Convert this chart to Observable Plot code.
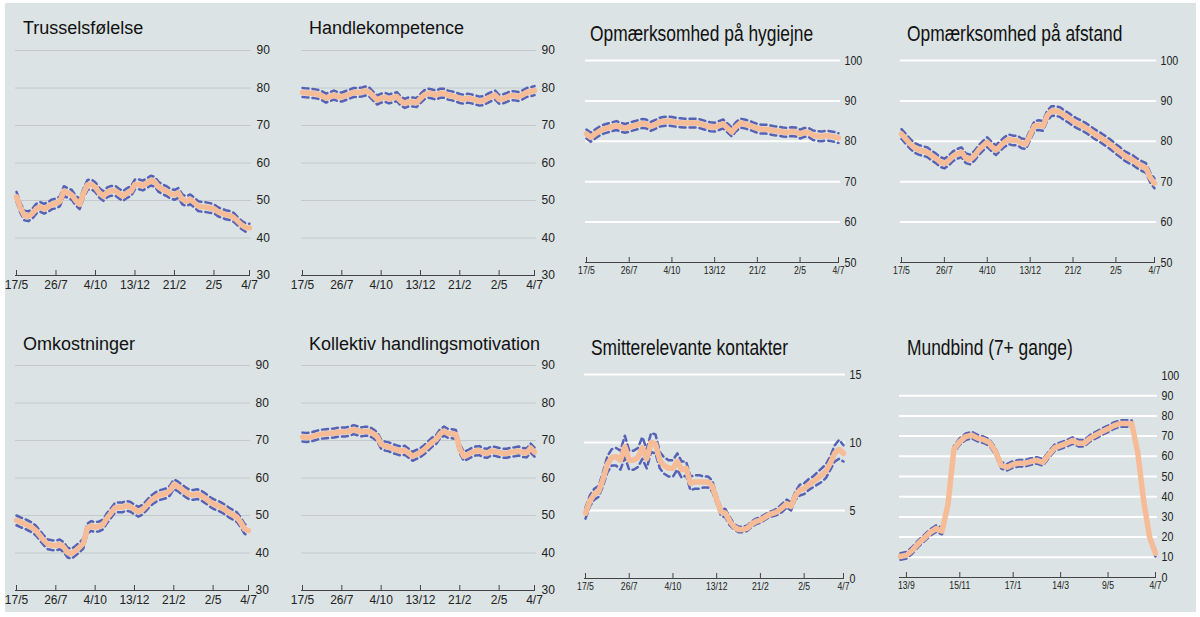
<!DOCTYPE html>
<html><head><meta charset="utf-8">
<script src="https://cdn.jsdelivr.net/npm/d3@7"></script>
<script src="https://cdn.jsdelivr.net/npm/@observablehq/plot@0.6"></script>
<style>
body{margin:0;background:#fff;width:1200px;height:617px;overflow:hidden;position:relative}
#bg{position:absolute;left:5px;top:3px;width:1191px;height:609px;background:#dbe3e4}
.title{position:absolute;white-space:nowrap;color:#111;line-height:1;font-family:"Liberation Sans",Arial,sans-serif}
.title.r{transform:scaleX(0.79);transform-origin:0 0}
.chart{position:absolute}
</style></head><body><div id="bg"></div>
<script>
// ---------- DATA ----------
const weeks = ["2020-05-17","2020-05-24","2020-05-31","2020-06-07","2020-06-14","2020-06-21","2020-06-28","2020-07-05","2020-07-12","2020-07-19",
"2020-07-26","2020-08-02","2020-08-09","2020-08-16","2020-08-23","2020-08-30","2020-09-06","2020-09-13","2020-09-20","2020-09-27",
"2020-10-04","2020-10-11","2020-10-18","2020-10-25","2020-11-01","2020-11-08","2020-11-15","2020-11-22","2020-11-29","2020-12-06",
"2020-12-13","2020-12-20","2020-12-27","2021-01-03","2021-01-10","2021-01-17","2021-01-24","2021-01-31","2021-02-07","2021-02-14",
"2021-02-21","2021-02-28","2021-03-07","2021-03-14","2021-03-21","2021-03-28","2021-04-04","2021-04-11","2021-04-18","2021-04-25",
"2021-05-02","2021-05-09","2021-05-16","2021-05-23","2021-05-30","2021-06-06","2021-06-13","2021-06-20","2021-06-27","2021-07-04"];
const maskWeeks = ["2020-09-06","2020-09-13","2020-09-20","2020-09-27","2020-10-04","2020-10-11","2020-10-18","2020-10-25","2020-11-01","2020-11-08",
"2020-11-15","2020-11-22","2020-11-29","2020-12-06","2020-12-13","2020-12-20","2020-12-27","2021-01-03","2021-01-10","2021-01-17",
"2021-01-24","2021-01-31","2021-02-07","2021-02-14","2021-02-21","2021-02-28","2021-03-07","2021-03-14","2021-03-21","2021-03-28",
"2021-04-04","2021-04-11","2021-04-18","2021-04-25","2021-05-02","2021-05-09","2021-05-16","2021-05-23","2021-05-30","2021-06-06",
"2021-06-13","2021-06-20","2021-06-27","2021-07-04"];

const mainTickDates = ["2020-05-17","2020-07-26","2020-10-04","2020-12-13","2021-02-21","2021-05-02","2021-07-04"];
const maskTickDates = ["2020-09-13","2020-11-15","2021-01-17","2021-03-14","2021-05-09","2021-07-04"];

const titles = ["Trusselsfølelse","Handlekompetence","Opmærksomhed på hygiejne","Opmærksomhed på afstand",
"Omkostninger","Kollektiv handlingsmotivation","Smitterelevante kontakter","Mundbind (7+ gange)"];

const yTicksLeft = [30,40,50,60,70,80,90];
const yTicksHyg = [50,60,70,80,90,100];
const yTicksContacts = [0,5,10,15];
const yTicksMask = [0,10,20,30,40,50,60,70,80,90,100];

const trusselMean = [51.0,48.0,46.0,45.8,46.5,47.8,48.3,47.8,48.3,49.0,49.2,49.8,52.5,52.0,51.5,50.0,49.0,52.0,54.2,54.3,53.5,52.0,51.2,52.2,52.6,52.6,51.8,51.2,52.0,52.5,54.3,54.3,54.0,54.6,55.3,55.0,53.6,53.0,52.5,51.8,51.5,52.0,50.3,49.8,50.3,49.5,48.5,48.3,48.2,48.0,47.8,47.0,46.6,46.2,46.0,45.5,44.5,43.5,42.8,42.7];
const trusselHi = [52.3,49.3,47.3,47.1,47.8,49.1,49.6,49.1,49.6,50.3,50.5,51.1,53.8,53.3,52.8,51.3,50.3,53.3,55.5,55.6,54.8,53.3,52.5,53.5,53.9,53.9,53.1,52.5,53.3,53.8,55.6,55.6,55.3,55.9,56.6,56.3,54.9,54.3,53.8,53.1,52.8,53.3,51.6,51.1,51.6,50.8,49.8,49.6,49.5,49.3,49.0,48.2,47.8,47.4,47.2,46.7,45.6,44.6,43.9,43.8];
const trusselLo = [49.7,46.7,44.7,44.5,45.2,46.5,47.0,46.5,47.0,47.7,47.9,48.5,51.2,50.7,50.2,48.7,47.7,50.7,52.9,53.0,52.2,50.7,49.9,50.9,51.3,51.3,50.5,49.9,50.7,51.2,53.0,53.0,52.7,53.3,54.0,53.7,52.3,51.7,51.2,50.5,50.2,50.7,49.0,48.5,49.0,48.2,47.2,47.0,46.9,46.7,46.6,45.8,45.4,45.0,44.8,44.3,43.4,42.4,41.7,41.6];

const handleMean = [78.8,78.7,78.6,78.5,78.3,77.9,77.3,77.7,78.1,77.7,77.6,78.0,78.4,78.8,78.8,78.9,79.2,78.9,77.8,76.8,77.3,77.5,77.1,77.4,77.7,76.5,75.9,76.3,76.3,76.1,77.2,78.2,78.6,78.4,78.1,78.6,78.6,78.1,77.9,77.6,77.2,77.0,77.3,77.1,76.8,76.5,76.6,77.2,77.7,78.1,77.0,77.1,77.5,78.0,77.9,77.7,78.2,78.8,79.0,79.3];
const handleHi = [80.0,79.9,79.8,79.7,79.5,79.1,78.5,78.9,79.3,78.9,78.8,79.2,79.6,80.0,80.0,80.1,80.4,80.1,79.0,78.0,78.5,78.7,78.3,78.6,78.9,77.7,77.1,77.5,77.5,77.3,78.4,79.4,79.8,79.6,79.3,79.8,79.8,79.3,79.1,78.8,78.4,78.2,78.5,78.3,78.0,77.7,77.8,78.4,78.9,79.3,78.2,78.3,78.7,79.2,79.1,78.9,79.4,80.0,80.2,80.5];
const handleLo = [77.6,77.5,77.4,77.3,77.1,76.7,76.1,76.5,76.9,76.5,76.4,76.8,77.2,77.6,77.6,77.7,78.0,77.7,76.6,75.6,76.1,76.3,75.9,76.2,76.5,75.3,74.7,75.1,75.1,74.9,76.0,77.0,77.4,77.2,76.9,77.4,77.4,76.9,76.7,76.4,76.0,75.8,76.1,75.9,75.6,75.3,75.4,76.0,76.5,76.9,75.8,75.9,76.3,76.8,76.7,76.5,77.0,77.6,77.8,78.1];

const hygMean = [81.8,81.0,81.8,82.5,83.0,83.3,83.6,83.9,83.5,83.2,83.5,83.8,84.1,84.4,84.3,83.7,84.1,84.7,84.9,85.0,84.9,84.7,84.6,84.5,84.5,84.5,84.5,84.2,83.9,83.6,83.5,83.9,84.3,83.3,82.3,83.6,84.5,84.3,84.0,83.6,83.2,83.0,83.0,82.8,82.6,82.5,82.3,82.2,82.4,82.3,81.8,82.2,82.2,81.5,81.3,81.2,81.4,81.3,81.1,80.8];
const hygHi = [82.9,82.1,82.9,83.6,84.1,84.4,84.7,85.0,84.6,84.3,84.6,84.9,85.2,85.5,85.4,84.8,85.2,85.8,86.0,86.1,86.0,85.8,85.7,85.6,85.6,85.6,85.6,85.3,85.0,84.7,84.6,85.0,85.4,84.4,83.4,84.7,85.6,85.4,85.1,84.7,84.3,84.1,84.1,83.9,83.7,83.6,83.4,83.3,83.5,83.4,82.9,83.3,83.3,82.7,82.5,82.4,82.6,82.5,82.3,82.0];
const hygLo = [80.7,79.9,80.7,81.4,81.9,82.2,82.5,82.8,82.4,82.1,82.4,82.7,83.0,83.3,83.2,82.6,83.0,83.6,83.8,83.9,83.8,83.6,83.5,83.4,83.4,83.4,83.4,83.1,82.8,82.5,82.4,82.8,83.2,82.2,81.2,82.5,83.4,83.2,82.9,82.5,82.1,81.9,81.9,81.7,81.5,81.4,81.2,81.1,81.3,81.2,80.7,81.1,81.1,80.3,80.1,80.0,80.2,80.1,79.9,79.6];

const afstandMean = [81.8,80.6,79.4,78.4,77.9,77.6,77.3,76.5,75.8,74.9,74.5,75.2,76.3,76.9,77.3,75.8,75.5,76.4,77.8,78.9,79.8,78.7,77.8,78.8,79.8,80.5,80.2,80.2,79.5,79.3,81.5,83.8,84.0,83.8,86.4,87.5,87.5,87.2,86.4,85.8,85.0,84.4,83.9,83.3,82.6,81.8,81.2,80.5,79.8,79.0,78.1,77.3,76.4,75.8,75.3,74.5,73.9,73.4,71.0,69.6];
const afstandHi = [83.0,81.8,80.6,79.6,79.1,78.8,78.5,77.7,77.0,76.1,75.7,76.4,77.5,78.1,78.5,77.0,76.7,77.6,79.0,80.1,81.0,79.9,79.0,80.0,81.0,81.7,81.4,81.4,80.7,80.5,82.7,85.0,85.2,85.0,87.6,88.7,88.7,88.4,87.6,87.0,86.2,85.6,85.1,84.5,83.8,83.0,82.4,81.7,81.0,80.2,79.3,78.5,77.6,77.0,76.5,75.7,75.1,74.6,72.2,70.8];
const afstandLo = [80.6,79.4,78.2,77.2,76.7,76.4,76.1,75.3,74.6,73.7,73.3,74.0,75.1,75.7,76.1,74.6,74.3,75.2,76.6,77.7,78.6,77.5,76.6,77.6,78.6,79.3,79.0,79.0,78.3,78.1,80.3,82.6,82.8,82.6,85.2,86.3,86.3,86.0,85.2,84.6,83.8,83.2,82.7,82.1,81.4,80.6,80.0,79.3,78.6,77.8,76.9,76.1,75.2,74.6,74.1,73.3,72.7,72.2,69.8,68.4];

const omkMean = [48.7,48.2,47.8,47.3,46.8,45.9,44.6,43.3,42.3,42.1,42.0,42.3,41.6,40.1,39.8,40.6,41.5,42.5,46.5,47.2,46.9,47.1,47.6,49.3,50.6,52.0,52.2,52.2,52.6,52.3,51.6,51.0,51.5,52.6,53.8,54.6,55.3,55.6,55.9,56.6,58.3,57.8,57.0,56.2,55.6,55.5,55.7,55.3,54.6,53.8,53.1,52.7,52.2,51.6,50.8,50.2,49.6,48.2,46.4,46.0];
const omkHi = [50.0,49.5,49.1,48.6,48.1,47.2,45.9,44.6,43.6,43.4,43.3,43.6,42.9,41.4,41.1,41.9,42.8,43.8,47.8,48.5,48.2,48.4,48.9,50.6,51.9,53.3,53.5,53.5,53.9,53.6,52.9,52.3,52.8,53.9,55.1,55.9,56.6,56.9,57.2,57.9,59.6,59.1,58.3,57.5,56.9,56.8,57.0,56.6,55.9,55.1,54.4,54.0,53.5,52.9,52.1,51.5,50.9,49.5,47.7,47.3];
const omkLo = [47.4,46.9,46.5,46.0,45.5,44.6,43.3,42.0,41.0,40.8,40.7,41.0,40.3,38.8,38.5,39.3,40.2,41.2,45.2,45.9,45.6,45.8,46.3,48.0,49.3,50.7,50.9,50.9,51.3,51.0,50.3,49.7,50.2,51.3,52.5,53.3,54.0,54.3,54.6,55.3,57.0,56.5,55.7,54.9,54.3,54.2,54.4,54.0,53.3,52.5,51.8,51.4,50.9,50.3,49.5,48.9,48.3,46.9,45.1,44.7];

const kollMean = [70.9,70.8,70.9,71.2,71.5,71.7,71.8,71.9,72.0,72.2,72.3,72.3,72.5,72.9,72.6,72.3,72.5,72.4,71.8,71.0,69.0,68.5,68.3,67.8,67.5,67.2,67.4,66.6,65.8,66.3,66.8,67.6,68.6,69.6,70.3,71.8,72.5,71.9,71.8,71.6,67.8,65.8,66.2,66.8,67.2,67.3,66.7,66.6,67.2,67.1,66.8,66.6,66.6,66.9,67.0,67.2,66.8,66.7,68.0,66.9];
const kollHi = [72.1,72.0,72.1,72.4,72.7,72.9,73.0,73.1,73.2,73.4,73.5,73.5,73.7,74.1,73.8,73.5,73.7,73.6,73.0,72.2,70.2,69.7,69.5,69.0,68.7,68.4,68.6,67.8,67.0,67.5,68.0,68.8,69.8,70.8,71.5,73.0,73.7,73.1,73.0,72.8,69.0,67.0,67.4,68.0,68.4,68.5,67.9,67.8,68.4,68.3,68.0,67.8,67.8,68.1,68.2,68.4,68.0,67.9,69.2,68.1];
const kollLo = [69.7,69.6,69.7,70.0,70.3,70.5,70.6,70.7,70.8,71.0,71.1,71.1,71.3,71.7,71.4,71.1,71.3,71.2,70.6,69.8,67.8,67.3,67.1,66.6,66.3,66.0,66.2,65.4,64.6,65.1,65.6,66.4,67.4,68.4,69.1,70.6,71.3,70.7,70.6,70.4,66.6,64.6,65.0,65.6,66.0,66.1,65.5,65.4,66.0,65.9,65.6,65.4,65.4,65.7,65.8,66.0,65.6,65.5,66.8,65.7];

const smitteMean = [4.8,5.7,6.2,6.4,7.3,8.4,8.9,8.95,8.7,9.7,8.7,8.7,8.9,9.6,8.8,10.0,9.9,8.7,8.3,8.1,8.1,8.6,8.0,8.1,7.0,7.1,7.1,7.1,7.1,6.8,5.8,4.9,4.8,4.2,3.8,3.6,3.6,3.7,4.0,4.2,4.3,4.5,4.7,4.8,4.95,5.2,5.5,5.3,6.1,6.5,6.6,6.9,7.1,7.35,7.6,7.9,8.5,9.2,9.5,9.2];
const smitteHi = [5.2,6.1,6.6,6.8,7.8,9.0,9.5,9.6,9.4,10.5,9.4,9.4,9.6,10.4,9.5,10.7,10.6,9.3,8.9,8.7,8.7,9.2,8.6,8.6,7.5,7.6,7.6,7.5,7.5,7.2,6.1,5.2,5.1,4.5,4.0,3.8,3.8,3.9,4.2,4.4,4.5,4.7,4.9,5.0,5.2,5.5,5.8,5.6,6.4,6.9,7.0,7.3,7.5,7.8,8.1,8.4,9.0,9.8,10.2,9.8];
const smitteLo = [4.4,5.3,5.8,6.0,6.8,7.8,8.3,8.3,8.0,8.9,8.0,8.0,8.2,8.8,8.1,9.3,9.2,8.1,7.7,7.5,7.5,8.0,7.4,7.6,6.5,6.6,6.6,6.7,6.7,6.4,5.5,4.6,4.5,3.9,3.6,3.4,3.4,3.5,3.8,4.0,4.1,4.3,4.5,4.6,4.7,4.9,5.2,5.0,5.8,6.1,6.2,6.5,6.7,6.9,7.1,7.4,8.0,8.6,8.8,8.6];

const maskMean = [10.4,11.0,13.5,16.8,19.5,22.3,24.2,23.0,36.0,63.5,67.3,69.7,70.5,69.0,68.2,66.8,62.5,55.5,54.6,56.0,56.6,56.6,57.4,58.0,57.0,60.8,64.2,65.3,66.4,67.8,66.5,66.5,69.0,70.6,72.2,73.6,75.2,76.2,76.3,76.1,62.0,38.0,20.0,12.0];
const maskHi = [12.0,12.6,15.1,18.4,21.1,23.9,25.8,24.6,37.6,65.1,68.9,71.3,72.1,70.6,69.8,68.4,64.1,57.1,56.2,57.6,58.2,58.2,59.0,59.6,58.6,62.4,65.8,66.9,68.0,69.4,68.1,68.1,70.6,72.2,73.8,75.2,76.8,77.8,77.9,77.7,63.6,39.6,21.6,13.6];
const maskLo = [8.8,9.4,11.9,15.2,17.9,20.7,22.6,21.4,34.4,61.9,65.7,68.1,68.9,67.4,66.6,65.2,60.9,53.9,53.0,54.4,55.0,55.0,55.8,56.4,55.4,59.2,62.6,63.7,64.8,66.2,64.9,64.9,67.4,69.0,70.6,72.0,73.6,74.6,74.7,74.5,60.4,36.4,18.4,10.4];

// ---------- LAYOUT ----------
const panels = [
 {title:titles[0], dates:weeks, mean:trusselMean, hi:trusselHi, lo:trusselLo, y:[30,90], yt:yTicksLeft, xt:mainTickDates, s:"l", px0:16, px1:249, py0:50, py1:275, tx:23, tb:34.5},
 {title:titles[1], dates:weeks, mean:handleMean, hi:handleHi, lo:handleLo, y:[30,90], yt:yTicksLeft, xt:mainTickDates, s:"l", px0:302, px1:534, py0:50, py1:275, tx:309, tb:34.5},
 {title:titles[2], dates:weeks, mean:hygMean, hi:hygHi, lo:hygLo, y:[50,100], yt:yTicksHyg, xt:mainTickDates, s:"r", px0:586, px1:838, py0:60, py1:262, tx:590, tb:42},
 {title:titles[3], dates:weeks, mean:afstandMean, hi:afstandHi, lo:afstandLo, y:[50,100], yt:yTicksHyg, xt:mainTickDates, s:"r", px0:901, px1:1154, py0:60, py1:262, tx:907, tb:42},
 {title:titles[4], dates:weeks, mean:omkMean, hi:omkHi, lo:omkLo, y:[30,90], yt:yTicksLeft, xt:mainTickDates, s:"l", px0:16, px1:248, py0:365, py1:590, tx:23, tb:350},
 {title:titles[5], dates:weeks, mean:kollMean, hi:kollHi, lo:kollLo, y:[30,90], yt:yTicksLeft, xt:mainTickDates, s:"l", px0:302, px1:534, py0:365, py1:590, tx:309, tb:350},
 {title:titles[6], dates:weeks, mean:smitteMean, hi:smitteHi, lo:smitteLo, y:[0,15], yt:yTicksContacts, xt:mainTickDates, s:"r", px0:585, px1:843, py0:374, py1:578, tx:591, tb:356},
 {title:titles[7], dates:maskWeeks, mean:maskMean, hi:maskHi, lo:maskLo, y:[0,100], yt:yTicksMask, xt:maskTickDates, s:"r", px0:900, px1:1155, py0:375, py1:577, tx:907, tb:356, noTopGrid:true}
];

const parse = d3.utcParse("%Y-%m-%d");
const fmt = d3.utcFormat("%-d/%-m");
const FONT = '"Liberation Sans", Arial, sans-serif';

panels.forEach(p => {
  const isR = p.s === "r";
  const ml = 12, mr = 45, mt = 14, mb = 26;
  const fw = p.px1 - p.px0, fh = p.py1 - p.py0;
  const rows = p.dates.map((d, i) => ({date: parse(d), mean: p.mean[i], hi: p.hi[i], lo: p.lo[i]}));
  const xt = p.xt.map(parse);
  let grid = p.yt.filter(v => v > p.y[0]);
  if (p.noTopGrid) grid = grid.filter(v => v < p.y[1]);
  const chart = Plot.plot({
    width: fw + ml + mr, height: fh + mt + mb,
    marginLeft: ml, marginRight: mr, marginTop: mt, marginBottom: mb,
    style: {background: "transparent", fontFamily: FONT, overflow: "visible", color: "#222"},
    x: {type: "utc", domain: [parse(p.dates[0]), parse(p.dates[p.dates.length - 1])], axis: null},
    y: {domain: p.y, axis: null},
    marks: [
      Plot.ruleY(grid, {stroke: isR ? "#ffffff" : "#c4cacb", strokeWidth: isR ? 2 : 1, insetLeft: -1, insetRight: -2}),
      Plot.ruleY([p.y[0]], {stroke: "#444", strokeWidth: 1, insetLeft: -1, insetRight: -1}),
      Plot.ruleX(xt, {stroke: "#444", strokeWidth: 1, insetTop: fh - 5}),
      Plot.axisX({ticks: xt, tickFormat: fmt, tickSize: 0, tickPadding: isR ? 4 : 5, fontSize: isR ? 10.5 : 12, fill: "#222"}),
      Plot.axisY({anchor: "right", ticks: p.yt, tickSize: 0, tickPadding: isR ? 6 : 7, fontSize: isR ? 13 : 12, fill: "#222"}),
      Plot.line(rows, {x: "date", y: "hi", stroke: "#5562b6", strokeWidth: 2.5, strokeDasharray: "6,4"}),
      Plot.line(rows, {x: "date", y: "lo", stroke: "#5562b6", strokeWidth: 2.5, strokeDasharray: "6,4"}),
      Plot.line(rows, {x: "date", y: "mean", stroke: "#f6bc97", strokeWidth: 5.5, strokeLinejoin: "round", strokeLinecap: "round"})
    ]
  });
  chart.classList.add("chart");
  chart.style.left = (p.px0 - ml) + "px";
  chart.style.top = (p.py0 - mt) + "px";
  if (isR) {
    // narrow lettering, as in the reference's right-hand panels
    chart.querySelectorAll("text").forEach(t => {
      const tr = t.getAttribute("transform") || "";
      t.setAttribute("transform", tr + " scale(0.82,1)");
    });
  }
  document.body.appendChild(chart);

  const t = document.createElement("div");
  t.className = "title " + p.s;
  const fs = isR ? 22 : 18;
  t.style.fontSize = fs + "px";
  t.style.left = p.tx + "px";
  t.style.top = (p.tb - 0.846 * fs) + "px";
  t.textContent = p.title;
  document.body.appendChild(t);
});
</script>
</body></html>
